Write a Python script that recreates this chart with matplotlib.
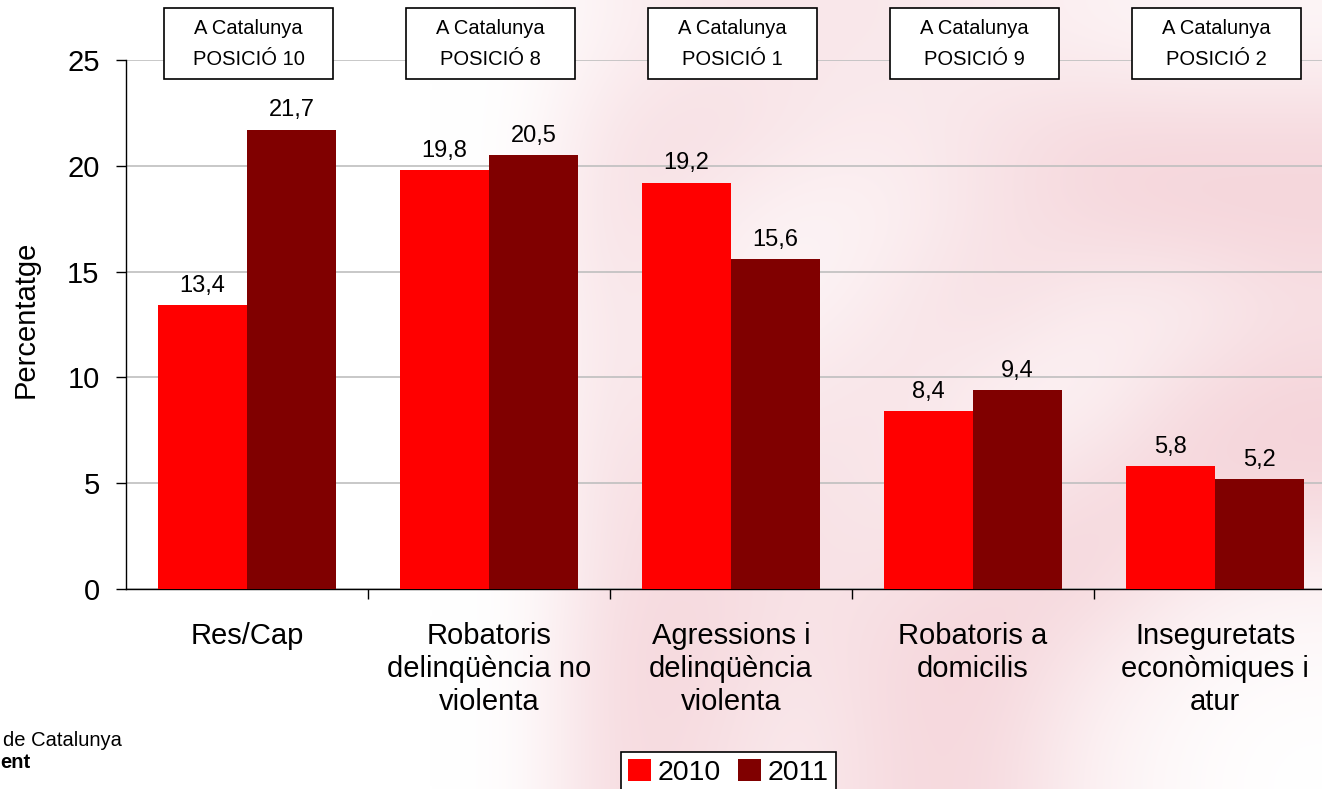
import matplotlib
matplotlib.use("Agg")
import matplotlib.pyplot as plt
import matplotlib.transforms as mtransforms
from matplotlib.patches import Rectangle
import numpy as np

plt.rcParams["font.family"] = ["Liberation Sans", "DejaVu Sans"]

categories = [
    "Res/Cap",
    "Robatoris\ndelinqüència no\nviolenta",
    "Agressions i\ndelinqüència\nviolenta",
    "Robatoris a\ndomicilis",
    "Inseguretats\neconòmiques i\natur",
]
values_2010 = [13.4, 19.8, 19.2, 8.4, 5.8]
values_2011 = [21.7, 20.5, 15.6, 9.4, 5.2]
positions_cat = ["10", "8", "1", "9", "2"]
series_labels = ["2010", "2011"]
yticks = [0, 5, 10, 15, 20, 25]

RED = "#FF0000"
DARK = "#800000"

# faint pink watermark behind the chart (rough, blurred)
watermark = np.array([
    [0, 0, 0, 0, 0, 0, 0.3, 0.5, 0.5, 0.5, 0.4, 0.3, 0.2, 0.2],
    [0, 0, 0, 0, 0, 0, 0.6, 0.7, 0.5, 0.4, 0.6, 0.8, 0.8, 0.8],
    [0, 0, 0, 0, 0, 0, 0.7, 0.4, 0.2, 0.3, 0.6, 0.8, 0.9, 0.9],
    [0, 0, 0, 0, 0, 0, 0.6, 0.3, 0.2, 0.5, 0.7, 0.4, 0.3, 0.6],
    [0, 0, 0, 0, 0, 0, 0.6, 0.4, 0.5, 0.6, 0.3, 0.2, 0.7, 0.9],
    [0, 0, 0, 0, 0, 0, 0.7, 0.6, 0.6, 0.5, 0.4, 0.7, 0.9, 0.9],
    [0, 0, 0, 0, 0, 0, 0.7, 0.8, 0.6, 0.6, 0.8, 0.9, 0.5, 0.3],
    [0, 0, 0, 0, 0, 0, 0.8, 0.8, 0.5, 0.8, 0.9, 0.5, 0.2, 0.1],
    [0, 0, 0, 0, 0, 0, 0.8, 0.7, 0.4, 0.8, 0.8, 0.3, 0.1, 0.0],
])

fig = plt.figure(figsize=(13.22, 7.89), dpi=100)
fig.patch.set_facecolor("white")

bg = fig.add_axes([0, 0, 1, 1], zorder=-1)
pink = np.array([244, 208, 214]) / 255.0
img = 1 - watermark[..., None] * (1 - pink)
bg.imshow(np.clip(img, 0, 1), extent=(0, 1, 0, 1), interpolation="bicubic",
          aspect="auto")
bg.axis("off")

ax = fig.add_axes([0.0953, 0.2535, 0.9153, 0.6705])
ax.set_facecolor("none")

x = np.arange(len(categories))
w = 0.368
b1 = ax.bar(x - w / 2, values_2010, w, color=RED, label=series_labels[0], zorder=3)
b2 = ax.bar(x + w / 2, values_2011, w, color=DARK, label=series_labels[1], zorder=3)

for bars, vals in ((b1, values_2010), (b2, values_2011)):
    for rect, v in zip(bars, vals):
        ax.annotate(f"{v:.1f}".replace(".", ","),
                    (rect.get_x() + rect.get_width() / 2, v),
                    xytext=(0, 6), textcoords="offset points",
                    ha="center", va="bottom", fontsize=17, zorder=4)

ax.set_xlim(-0.5, len(categories) - 0.5)
ax.set_ylim(0, 25)
ax.set_yticks(yticks)
ax.yaxis.grid(True, color="#BFBFBF", linewidth=1.2, zorder=0)
ax.set_axisbelow(True)

ax.set_xticks(x)
ax.set_xticklabels(categories, fontsize=21, linespacing=1.22)
ax.set_xticks(np.arange(len(categories)) + 0.5, minor=True)
ax.tick_params(axis="x", which="major", length=0, pad=24)
ax.tick_params(axis="x", which="minor", length=7, width=1, direction="out")
ax.tick_params(axis="y", length=7, width=1, direction="out", labelsize=21, pad=12)

for s in ("top", "right"):
    ax.spines[s].set_visible(False)
ax.spines["left"].set_linewidth(1)
ax.spines["bottom"].set_linewidth(1)

ax.set_ylabel("Percentatge", fontsize=21)
ax.yaxis.set_label_coords(-0.071, 0.51)

# position boxes above each category
trans = mtransforms.blended_transform_factory(ax.transData, ax.transAxes)
box_w = 0.698
for xi, pos in zip(x, positions_cat):
    ax.add_patch(Rectangle((xi + 0.007 - box_w / 2, 0.964), box_w, 0.134,
                           transform=trans, facecolor="white", edgecolor="black",
                           linewidth=1.2, clip_on=False, zorder=5))
    ax.text(xi + 0.007, 1.030, f"A Catalunya\nPOSICIÓ {pos}", transform=trans,
            ha="center", va="center", fontsize=14.5, linespacing=1.8, zorder=6)

leg = fig.legend(loc="upper center", bbox_to_anchor=(0.551, 0.047), ncol=2,
                 fontsize=20.5, frameon=True, fancybox=False, handlelength=0.8,
                 handleheight=0.8, handletextpad=0.25, columnspacing=0.6,
                 borderpad=0.25, borderaxespad=0, framealpha=1)
leg.get_frame().set_edgecolor("black")
leg.get_frame().set_linewidth(1.2)

# visible part of the cropped logo, bottom left
fig.text(3 / 1322, 1 - 740 / 789, "de Catalunya", ha="left", va="center",
         fontsize=14.5)
fig.text(0, 1 - 762 / 789, "ent", ha="left", va="center", fontsize=14.5,
         fontweight="bold")

fig.savefig("out.png", dpi=100)
